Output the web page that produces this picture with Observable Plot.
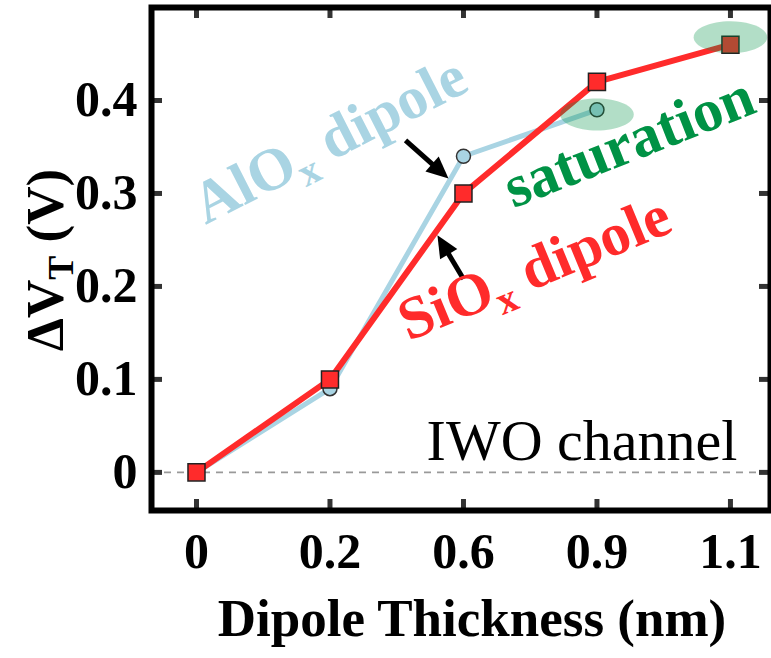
<!DOCTYPE html>
<html>
<head>
<meta charset="utf-8">
<script src="https://cdn.jsdelivr.net/npm/d3@7"></script>
<script src="https://cdn.jsdelivr.net/npm/@observablehq/plot@0.6"></script>
<style>
  html, body { margin: 0; padding: 0; background: #fff; }
  #chart svg { display: block; }
</style>
</head>
<body>
<div id="chart"></div>
<script>
// Threshold-voltage shift of an IWO-channel transistor versus dipole interlayer thickness.
const thicknessLabels = ["0", "0.2", "0.6", "0.9", "1.1"];

const sioxThickness = ["0", "0.2", "0.6", "0.9", "1.1"];
const sioxShift = [0, 0.10, 0.30, 0.42, 0.46];

const aloxThickness = ["0", "0.2", "0.6", "0.9"];
const aloxShift = [0, 0.09, 0.34, 0.39];

const yTicks = [0, 0.1, 0.2, 0.3, 0.4];
const yTickLabels = ["0", "0.1", "0.2", "0.3", "0.4"];

// Highlighted saturation region (thickness, ΔVT of ellipse centre)
const saturationThickness = ["0.9", "1.1"];
const saturationShift = [0.385, 0.468];

// Rotated annotations: text, anchor (thickness-index units, V), angle
const noteText = ["AlOx dipole", "SiOx dipole", "saturation"];
const noteX = [0.067, 1.588, 2.375];
const noteY = [0.266, 0.141, 0.284];
const noteAngle = [-27, -22.5, -21.5];

// Pointer arrows (thickness-index units, V)
const arrowFromX = [1.566, 2.000];
const arrowFromY = [0.357, 0.208];
const arrowToX = [1.888, 1.805];
const arrowToY = [0.316, 0.255];

// Corner label
const cornerText = ["IWO channel"];
const cornerX = [4.052];
const cornerY = [0.0129];

const idx = t => thicknessLabels.indexOf(t);
const siox = sioxThickness.map((t, i) => ({x: idx(t), y: sioxShift[i]}));
const alox = aloxThickness.map((t, i) => ({x: idx(t), y: aloxShift[i]}));
const sat = saturationThickness.map((t, i) => ({x: idx(t), y: saturationShift[i]}));
const notes = noteText.map((text, i) => ({text, x: noteX[i], y: noteY[i], angle: noteAngle[i]}));
const arrows = arrowFromX.map((_, i) => ({x1: arrowFromX[i], y1: arrowFromY[i], x2: arrowToX[i], y2: arrowToY[i]}));
const corner = cornerText.map((text, i) => ({text, x: cornerX[i], y: cornerY[i]}));

const W = 771, H = 658;
const M = {left: 151, right: 1, top: 7, bottom: 148};
const xDomain = [-0.337, 4.30];
const yDomain = [-0.041, 0.5];
const kx = (W - M.left - M.right) / (xDomain[1] - xDomain[0]);
const ky = (H - M.top - M.bottom) / (yDomain[1] - yDomain[0]);

const SERIF = "'Liberation Serif', 'Times New Roman', Times, serif";
const RED = "#ff2b2b", BLUE = "#a9d4e3", GREEN = "#009245";

// Horizontal ellipse used to highlight the saturated points
const ellipse = {
  draw(ctx, size) {
    const r = Math.sqrt(size / Math.PI), rx = 2.3 * r, ry = r, k = 0.5523;
    ctx.moveTo(rx, 0);
    ctx.bezierCurveTo(rx, k * ry, k * rx, ry, 0, ry);
    ctx.bezierCurveTo(-k * rx, ry, -rx, k * ry, -rx, 0);
    ctx.bezierCurveTo(-rx, -k * ry, -k * rx, -ry, 0, -ry);
    ctx.bezierCurveTo(k * rx, -ry, rx, -k * ry, rx, 0);
    ctx.closePath();
  }
};

// Filled triangular arrow head pointing along a screen angle
function arrowHead(angle) {
  return {
    draw(ctx) {
      const L = 22, w = 10, c = Math.cos(angle), s = Math.sin(angle);
      const bx = -L * c, by = -L * s;
      ctx.moveTo(0, 0);
      ctx.lineTo(bx - w * s, by + w * c);
      ctx.lineTo(bx + w * s, by - w * c);
      ctx.closePath();
    }
  };
}

const tickLenX = 11 / kx, tickLenY = 11 / ky;
const xTickIdx = thicknessLabels.map((_, i) => i);

const headMarks = arrows.map(a => {
  const ang = Math.atan2(-(a.y2 - a.y1) * ky, (a.x2 - a.x1) * kx);
  return Plot.dot([a], {x: "x2", y: "y2", r: 1, symbol: arrowHead(ang), fill: "black", stroke: "none"});
});

const noteColors = {"AlOx dipole": BLUE, "SiOx dipole": RED, "saturation": GREEN};

const plot = Plot.plot({
  width: W,
  height: H,
  marginLeft: M.left,
  marginRight: M.right,
  marginTop: M.top,
  marginBottom: M.bottom,
  style: {fontFamily: SERIF, fontWeight: "bold", fontSize: "50px", background: "#fff", color: "#000"},
  x: {type: "linear", domain: xDomain},
  y: {type: "linear", domain: yDomain},
  marks: [
    Plot.ruleY([0], {stroke: "#999", strokeWidth: 1.6, strokeDasharray: "7,6"}),
    // inward ticks on all four sides
    Plot.ruleX(xTickIdx, {x: d => d, y1: yDomain[0], y2: yDomain[0] + tickLenY, stroke: "#333", strokeWidth: 5}),
    Plot.ruleX(xTickIdx, {x: d => d, y1: yDomain[1] - tickLenY, y2: yDomain[1], stroke: "#333", strokeWidth: 5}),
    Plot.ruleY(yTicks, {y: d => d, x1: xDomain[0], x2: xDomain[0] + tickLenX, stroke: "#333", strokeWidth: 5}),
    Plot.ruleY(yTicks, {y: d => d, x1: xDomain[1] - tickLenX, x2: xDomain[1], stroke: "#333", strokeWidth: 5}),
    // series
    Plot.line(alox, {x: "x", y: "y", stroke: BLUE, strokeWidth: 5}),
    Plot.dot(alox, {x: "x", y: "y", r: 7, fill: BLUE, stroke: "#333", strokeWidth: 1.5}),
    Plot.line(siox, {x: "x", y: "y", stroke: RED, strokeWidth: 6}),
    Plot.dot(siox, {x: "x", y: "y", r: 9.6, symbol: "square", fill: RED, stroke: "#222", strokeWidth: 1.5}),
    // saturation highlight
    Plot.dot(sat, {x: "x", y: "y", r: 16, symbol: ellipse, fill: GREEN, fillOpacity: 0.3, stroke: "none"}),
    // arrows
    Plot.arrow(arrows, {x1: "x1", y1: "y1", x2: "x2", y2: "y2", stroke: "black", strokeWidth: 5, headLength: 0, insetEnd: 15, strokeLinecap: "butt"}),
    ...headMarks,
    // annotations
    ...notes.map(n => Plot.text([n], {x: "x", y: "y", text: "text", rotate: n.angle, fill: noteColors[n.text],
      fontSize: 60, fontWeight: "bold", fontFamily: SERIF, textAnchor: "start", lineAnchor: "bottom"})),
    Plot.text(corner, {x: "x", y: "y", text: "text", fill: "black", fontSize: 58, fontWeight: "normal",
      fontFamily: SERIF, textAnchor: "end", lineAnchor: "bottom"}),
    // axes
    Plot.axisX(xTickIdx, {tickFormat: d => thicknessLabels[d], tickSize: 0, tickPadding: 22, fontSize: 50, fontWeight: "bold", label: null}),
    Plot.axisY(yTicks, {tickFormat: d => yTickLabels[yTicks.indexOf(d)], tickSize: 0, tickPadding: 14, fontSize: 50, fontWeight: "bold", label: null}),
    Plot.text(["Dipole Thickness (nm)"], {frameAnchor: "bottom", text: d => d, dy: 125, dx: 11, lineAnchor: "bottom",
      fontSize: 53, fontWeight: "bold", fontFamily: SERIF, fill: "black"}),
    Plot.frame({stroke: "black", strokeWidth: 6})
  ]
});

document.getElementById("chart").appendChild(plot);

// Chemical-formula subscripts in the series annotations
const NS = "http://www.w3.org/2000/svg";
plot.querySelectorAll("text").forEach(t => {
  const m = t.textContent.match(/^(AlO|SiO)x( dipole)$/);
  if (!m) return;
  t.textContent = "";
  const a = document.createElementNS(NS, "tspan");
  a.textContent = m[1];
  const b = document.createElementNS(NS, "tspan");
  b.textContent = "x";
  b.setAttribute("font-size", "40");
  b.setAttribute("dy", "12");
  const c = document.createElementNS(NS, "tspan");
  c.textContent = m[2];
  c.setAttribute("dy", "-12");
  t.append(a, b, c);
});

// Y-axis title with subscript T
const ylab = d3.select(plot).append("text")
  .attr("transform", "translate(63,260) rotate(-90)")
  .attr("text-anchor", "middle")
  .attr("font-family", SERIF)
  .attr("font-size", 53)
  .attr("font-weight", "bold")
  .attr("fill", "black");
ylab.append("tspan").text("ΔV");
ylab.append("tspan").text("T").attr("font-size", 36).attr("dy", 10);
ylab.append("tspan").text(" (V)").attr("dy", -10);
</script>
</body>
</html>
